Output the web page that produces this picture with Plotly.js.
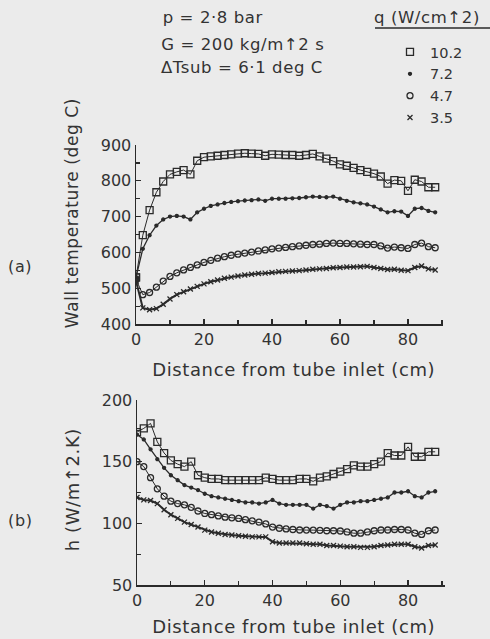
<!DOCTYPE html>
<html>
<head>
<meta charset="utf-8">
<script src="https://cdn.plot.ly/plotly-3.0.1.min.js"></script>
<style>
html,body{margin:0;padding:0;background:#ebebeb;}
#chart{width:490px;height:639px;}
#chart .annotation-text{letter-spacing:0.6px;}
</style>
</head>
<body>
<div id="chart"></div>
<script>
// distance from tube inlet (cm)
var dist = [0,2,4,6,8,10,12,14,16,18,20,22,24,26,28,30,32,34,36,38,40,42,44,46,48,50,52,54,56,58,60,62,64,66,68,70,72,74,76,78,80,82,84,86,88];

// heat flux labels q (W/cm^2)
var fluxLabels = ["10.2", "7.2", "4.7", "3.5"];

// (a) wall temperature (deg C)
var tw102 = [530,648,718,768,798,818,825,830,818,856,866,868,870,872,874,876,877,876,875,870,874,873,872,872,870,872,875,868,862,855,846,842,836,830,825,820,812,792,802,800,772,803,798,782,782];
var tw72  = [530,610,648,675,692,700,702,700,692,712,722,730,734,738,741,743,745,746,748,744,750,750,750,751,752,754,756,755,754,756,750,744,740,737,734,728,720,712,715,714,702,722,724,716,712];
var tw47  = [525,482,488,503,520,533,543,551,558,565,572,578,584,588,592,595,598,601,604,607,610,612,614,616,618,620,622,623,625,626,625,625,624,623,622,622,618,612,615,613,611,622,626,616,613];
var tw35  = [520,445,440,443,455,470,482,490,498,505,512,518,523,528,531,534,537,539,541,542,544,546,547,548,549,551,553,554,555,557,558,559,559,560,561,558,555,552,553,550,549,558,562,554,551];

// (b) heat transfer coefficient h (W/m^2 K)
var h102 = [174,177,181,166,157,151,148,146,150,139,137,136,136,135,135,135,135,135,135,137,136,135,135,135,136,136,134,137,138,140,142,144,147,146,146,148,150,157,155,155,162,154,154,158,158];
var h72  = [172,168,160,152,145,139,135,131,129,127,124,122,121,120,119,118,117,117,116,117,119,116,115,115,115,115,112,115,114,112,115,117,117,118,118,119,120,121,125,125,126,122,121,125,126];
var h47  = [150,146,137,128,122,118,116,115,113,110,108,107,106,105,104.5,104,103,102,101,99.5,97,96,95.5,95,94.6,94.5,94.5,94.3,94,94,93.8,93,92,92,93,94,94.6,94.6,95,95,94.6,92,91,94,94.6];
var h35  = [121,119,118.5,116,111,107,104,101,99,97,94.5,93,92,91,90.5,90,89.5,89,89,89,85,84,84,84,84,83.5,83,83,82,82,81.5,81,81,80.5,80.5,81,82,82.5,83,83,83,81,80,82,82.5];

var ink = '#2a2a2a';
var txt = '#333333';
var W = 490, H = 639;
function px(x){return x / W;}
function py(y){return 1 - y / H;}

var styles = [
  {symbol:'square-open', size:7, lw:1},
  {symbol:'circle', size:3, lw:1.3},
  {symbol:'circle-open', size:6, lw:1},
  {symbol:'x-thin-open', size:5, lw:2}
];
var topSeries = [tw102, tw72, tw47, tw35];
var botSeries = [h102, h72, h47, h35];

function mk(i){ return {symbol:styles[i].symbol, size:styles[i].size, color:ink, line:{color:ink, width:1.3}}; }

var traces = [];
topSeries.forEach(function(s, i){
  traces.push({x:dist, y:s, xaxis:'x', yaxis:'y', mode:'lines+markers', showlegend:false,
    line:{color:ink, width:styles[i].lw}, marker:mk(i)});
});
botSeries.forEach(function(s, i){
  traces.push({x:dist, y:s, xaxis:'x2', yaxis:'y2', mode:'lines+markers', showlegend:false,
    line:{color:ink, width:styles[i].lw}, marker:mk(i)});
});
// legend entries (marker only), placed on the first data point of each series
topSeries.forEach(function(s, i){
  traces.push({x:[dist[0]], y:[s[0]], xaxis:'x', yaxis:'y', mode:'markers', name:fluxLabels[i],
    showlegend:true, legendgroup:'g'+i, marker:mk(i)});
});

var axisCommon = {
  showline:true, linecolor:ink, linewidth:1.5, showgrid:false, zeroline:false,
  ticks:'inside', ticklen:5, tickwidth:1.2, tickcolor:ink,
  tickfont:{family:'DejaVu Sans', size:16, color:txt},
  fixedrange:true
};
function ax(extra){ var o = {}; for (var k in axisCommon) o[k] = axisCommon[k]; for (var k2 in extra) o[k2] = extra[k2]; return o; }
var minorX = {dtick:10, tick0:0, ticks:'inside', ticklen:4, tickcolor:ink, tickwidth:1.2};

var f17 = {family:'DejaVu Sans', size:16.5, color:txt};

var layout = {
  width:W, height:H,
  paper_bgcolor:'#ebebeb', plot_bgcolor:'#ebebeb',
  margin:{l:0, r:0, t:0, b:0},
  font:{family:'DejaVu Sans', size:15, color:txt},
  showlegend:true,
  legend:{x:px(390), y:py(36), xanchor:'left', yanchor:'top', bgcolor:'rgba(0,0,0,0)',
    font:{family:'DejaVu Sans', size:14.5, color:txt}, traceorder:'grouped', tracegroupgap:0, itemclick:false},
  xaxis: ax({domain:[px(136), px(443)], range:[0, 90.3], anchor:'y', tickvals:[0,20,40,60,80], minor:minorX}),
  yaxis: ax({domain:[py(324), py(145)], range:[400, 900], anchor:'x', dtick:100,
    minor:{dtick:50, tick0:0, ticks:'inside', ticklen:4, tickcolor:ink, tickwidth:1.2}}),
  xaxis2: ax({domain:[px(137), px(445)], range:[0, 90.9], anchor:'y2', tickvals:[0,20,40,60,80], minor:minorX}),
  yaxis2: ax({domain:[py(585), py(400)], range:[50, 200], anchor:'x2', dtick:50,
    minor:{dtick:25, tick0:0, ticks:'inside', ticklen:4, tickcolor:ink, tickwidth:1.2}}),
  annotations:[
    {xref:'paper', yref:'paper', x:px(164), y:py(18), xanchor:'left', yanchor:'middle', showarrow:false, text:'p = 2·8 bar', font:f17},
    {xref:'paper', yref:'paper', x:px(164), y:py(44), xanchor:'left', yanchor:'middle', showarrow:false, text:'G = 200 kg/m↑2 s', font:f17},
    {xref:'paper', yref:'paper', x:px(164), y:py(68), xanchor:'left', yanchor:'middle', showarrow:false, text:'ΔTsub = 6·1 deg C', font:f17},
    {xref:'paper', yref:'paper', x:px(375), y:py(17), xanchor:'left', yanchor:'middle', showarrow:false, text:'q (W/cm↑2)', font:f17},
    {xref:'paper', yref:'paper', x:px(20), y:py(266), xanchor:'center', yanchor:'middle', showarrow:false, text:'(a)', font:{family:'DejaVu Sans', size:16, color:txt}},
    {xref:'paper', yref:'paper', x:px(20), y:py(520), xanchor:'center', yanchor:'middle', showarrow:false, text:'(b)', font:{family:'DejaVu Sans', size:16, color:txt}},
    {xref:'paper', yref:'paper', x:px(72), y:py(213), xanchor:'center', yanchor:'middle', showarrow:false, textangle:-90, text:'Wall temperature (deg C)', font:{family:'DejaVu Sans', size:17, color:txt}},
    {xref:'paper', yref:'paper', x:px(72), y:py(490), xanchor:'center', yanchor:'middle', showarrow:false, textangle:-90, text:'h (W/m↑2.K)', font:{family:'DejaVu Sans', size:18, color:txt}},
    {xref:'paper', yref:'paper', x:px(293), y:py(369), xanchor:'center', yanchor:'middle', showarrow:false, text:'Distance from tube inlet (cm)', font:{family:'DejaVu Sans', size:18, color:txt}},
    {xref:'paper', yref:'paper', x:px(293), y:py(626), xanchor:'center', yanchor:'middle', showarrow:false, text:'Distance from tube inlet (cm)', font:{family:'DejaVu Sans', size:18, color:txt}}
  ],
  shapes:[
    {type:'line', xref:'paper', yref:'paper', x0:px(375), x1:px(490), y0:py(28), y1:py(28), line:{color:ink, width:1.5}}
  ]
};

Plotly.newPlot('chart', traces, layout, {displayModeBar:false, staticPlot:true});
</script>
</body>
</html>
